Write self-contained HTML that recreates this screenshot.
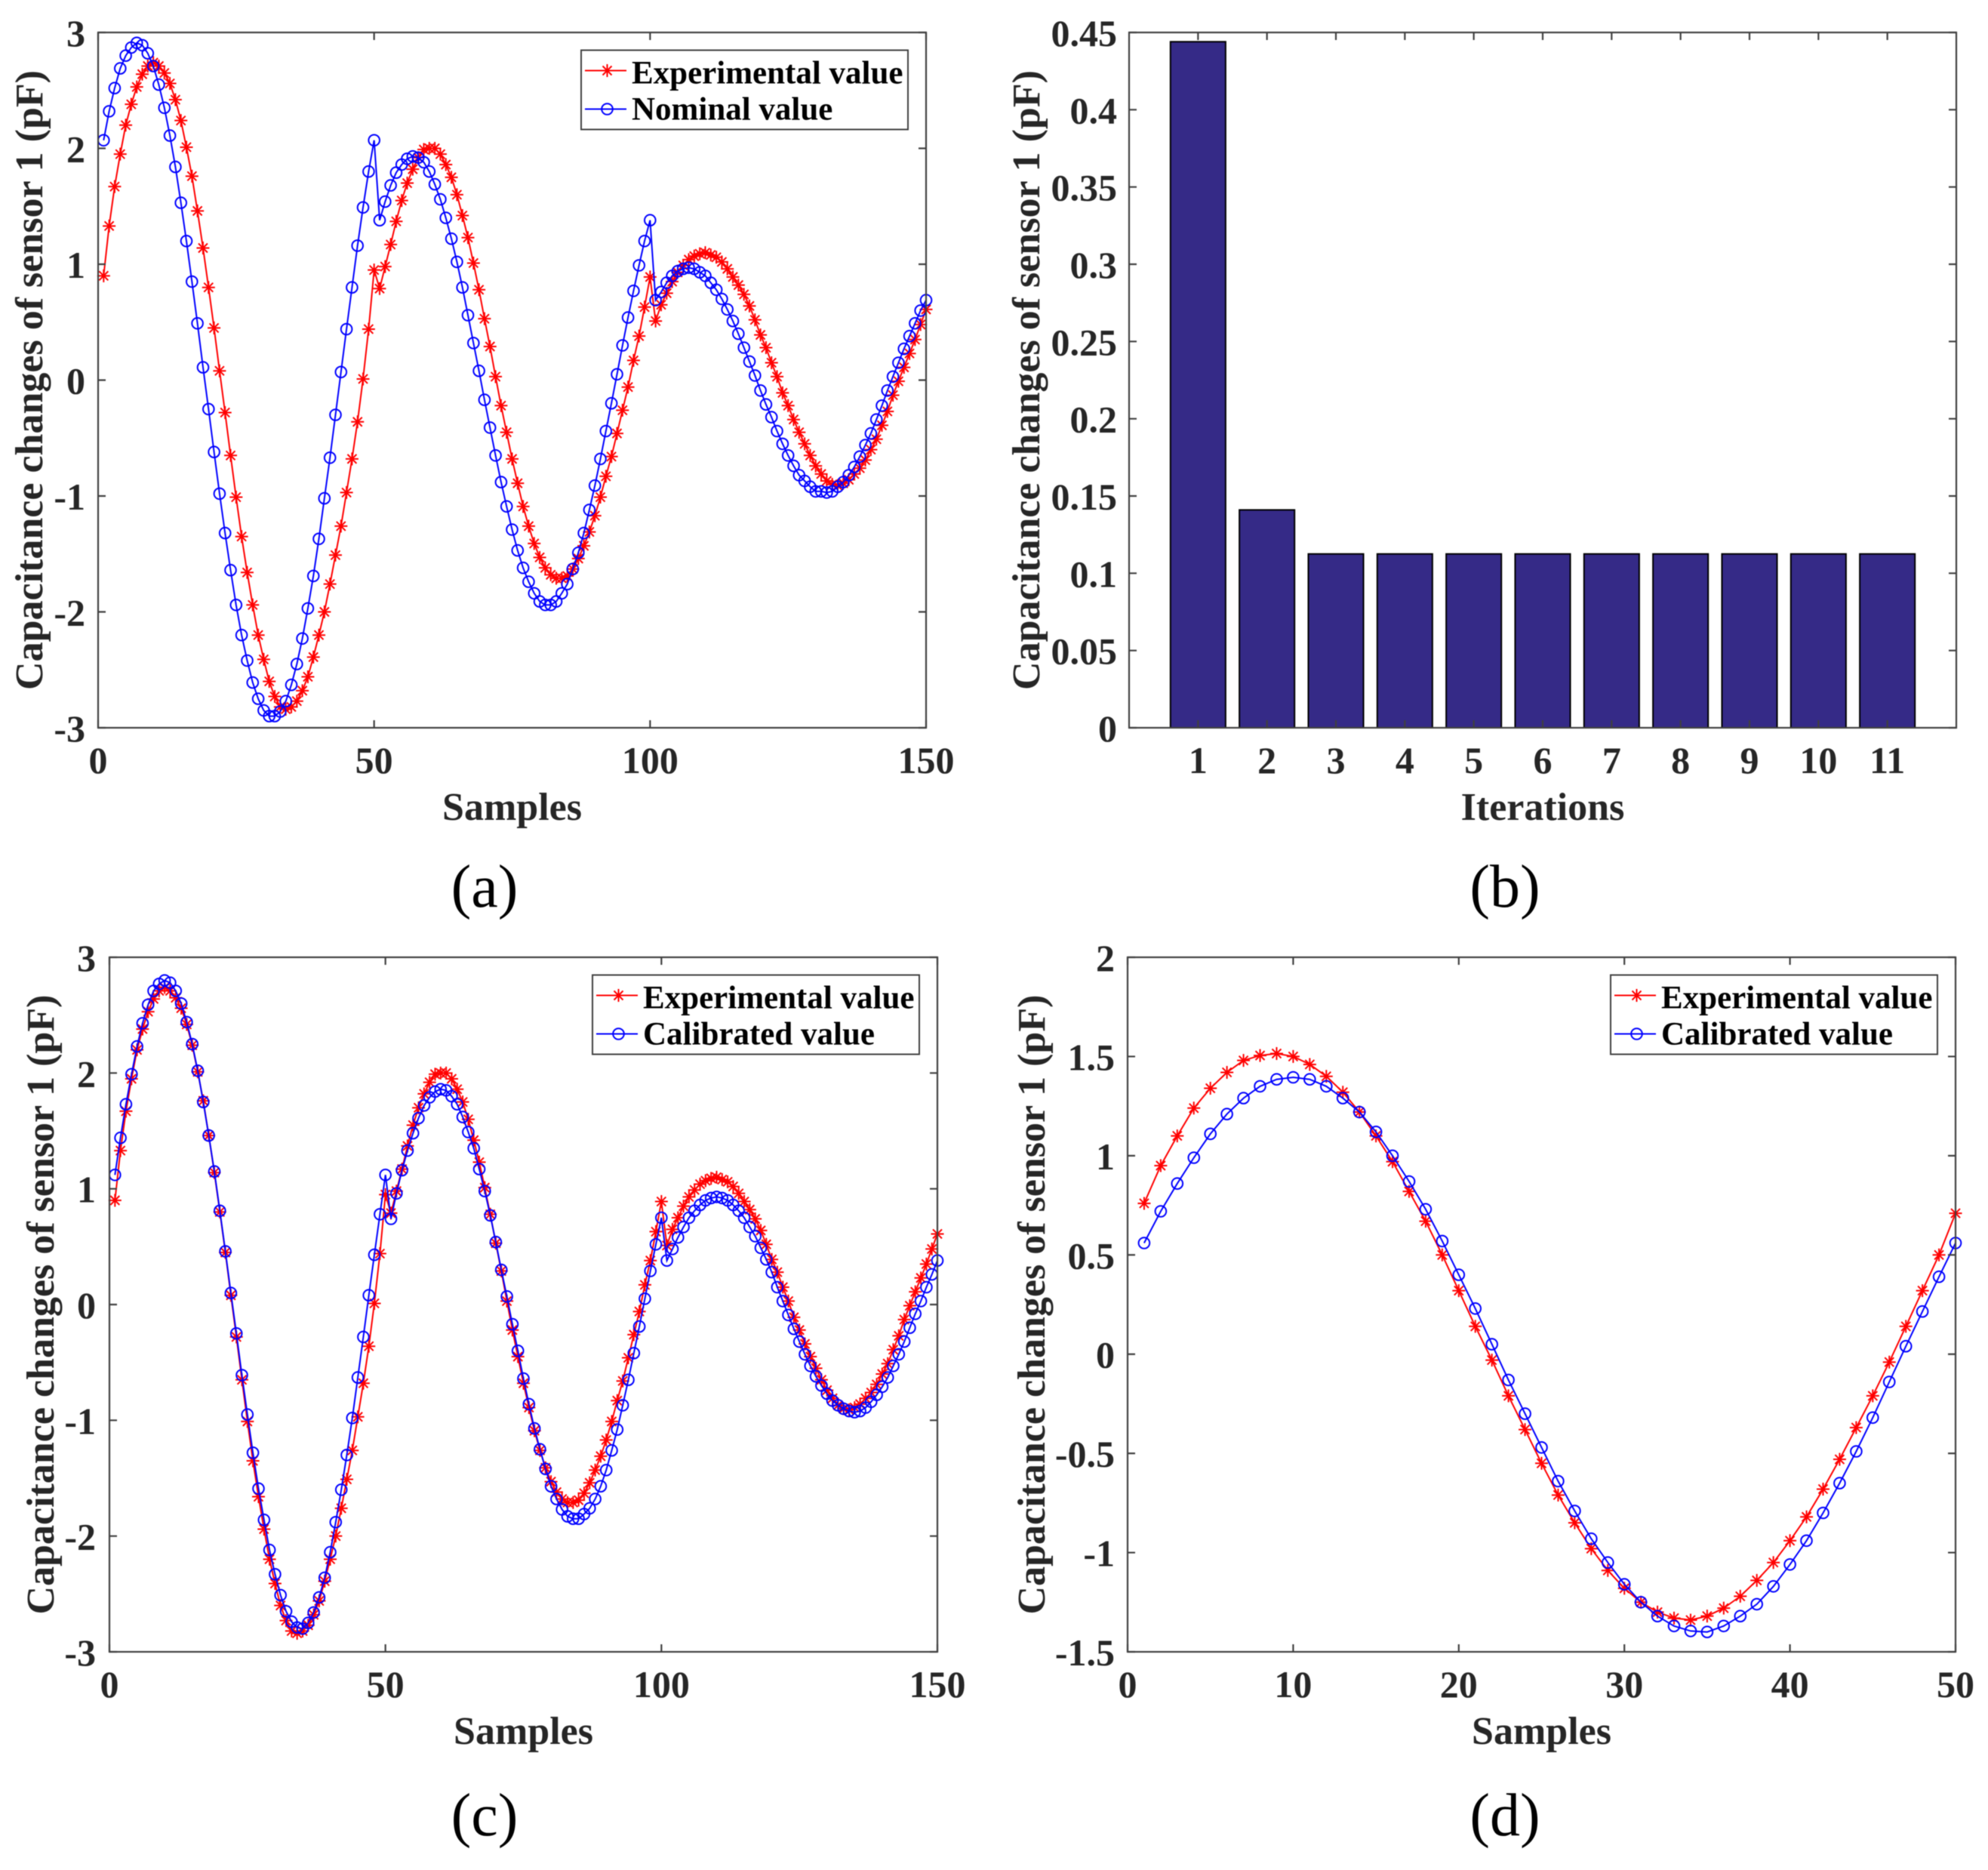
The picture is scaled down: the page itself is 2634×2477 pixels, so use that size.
<!DOCTYPE html>
<html lang="en">
<head>
<meta charset="utf-8">
<title>Capacitance changes of sensor 1</title>
<style>
html,body{margin:0;padding:0;background:#fff;}
svg{display:block;filter:blur(0.5px);}
text{font-family:"Liberation Serif",serif;}
.tick{font-weight:bold;font-size:50px;fill:#262626;}
.axis-title{font-weight:bold;font-size:52px;fill:#262626;}
.legend-text{font-weight:bold;font-size:43px;fill:#000;}
.panel-label{font-size:80px;fill:#000;}
</style>
</head>
<body>
<svg id="figure" xmlns="http://www.w3.org/2000/svg" width="2634" height="2477" viewBox="0 0 2634 2477">
<rect width="2634" height="2477" fill="#fff"/>
<text class="panel-label" x="642" y="1201" text-anchor="middle">(a)</text>
<text class="panel-label" x="1994" y="1201" text-anchor="middle">(b)</text>
<text class="panel-label" x="642" y="2431" text-anchor="middle">(c)</text>
<text class="panel-label" x="1994" y="2431" text-anchor="middle">(d)</text>
</svg>
<script>
var experimentalLong = [0.90,1.33,1.67,1.95,2.20,2.38,2.53,2.64,2.71,2.74,2.71,2.65,2.56,2.42,2.24,2.01,1.76,1.46,1.14,0.80,0.45,0.08,-0.28,-0.65,-1.01,-1.35,-1.66,-1.94,-2.20,-2.41,-2.60,-2.73,-2.82,-2.84,-2.82,-2.77,-2.68,-2.56,-2.39,-2.20,-2.00,-1.76,-1.51,-1.26,-0.97,-0.68,-0.36,0.01,0.44,0.95,0.79,0.98,1.17,1.37,1.55,1.70,1.82,1.92,1.99,2.00,2.00,1.95,1.86,1.75,1.60,1.42,1.23,1.01,0.78,0.53,0.29,0.03,-0.22,-0.45,-0.68,-0.89,-1.09,-1.26,-1.41,-1.53,-1.62,-1.68,-1.71,-1.71,-1.69,-1.63,-1.54,-1.43,-1.31,-1.17,-1.01,-0.83,-0.66,-0.46,-0.26,-0.06,0.17,0.38,0.63,0.89,0.51,0.65,0.75,0.85,0.93,0.99,1.04,1.07,1.09,1.10,1.08,1.06,1.02,0.96,0.89,0.82,0.74,0.64,0.52,0.39,0.28,0.15,0.03,-0.11,-0.22,-0.34,-0.45,-0.55,-0.65,-0.74,-0.81,-0.87,-0.90,-0.91,-0.89,-0.86,-0.81,-0.76,-0.69,-0.60,-0.51,-0.39,-0.27,-0.13,-0.01,0.11,0.23,0.35,0.48,0.61];
var nominalLong = [2.07,2.32,2.52,2.69,2.80,2.87,2.91,2.89,2.82,2.71,2.55,2.35,2.11,1.84,1.53,1.20,0.85,0.49,0.11,-0.25,-0.62,-0.98,-1.32,-1.64,-1.94,-2.20,-2.42,-2.61,-2.75,-2.85,-2.90,-2.90,-2.86,-2.77,-2.63,-2.45,-2.23,-1.97,-1.69,-1.37,-1.02,-0.67,-0.30,0.07,0.44,0.80,1.16,1.49,1.80,2.07,1.38,1.54,1.68,1.79,1.86,1.91,1.93,1.92,1.88,1.80,1.69,1.56,1.40,1.22,1.02,0.80,0.56,0.32,0.08,-0.17,-0.41,-0.65,-0.88,-1.09,-1.29,-1.47,-1.62,-1.74,-1.84,-1.91,-1.94,-1.94,-1.91,-1.84,-1.76,-1.63,-1.49,-1.32,-1.12,-0.91,-0.68,-0.44,-0.20,0.05,0.30,0.54,0.77,0.99,1.20,1.38,0.69,0.76,0.84,0.90,0.94,0.96,0.97,0.96,0.93,0.90,0.84,0.78,0.70,0.61,0.51,0.40,0.28,0.16,0.04,-0.09,-0.21,-0.32,-0.44,-0.55,-0.65,-0.74,-0.82,-0.87,-0.92,-0.96,-0.96,-0.97,-0.96,-0.92,-0.88,-0.82,-0.75,-0.66,-0.56,-0.46,-0.34,-0.22,-0.09,0.03,0.15,0.27,0.38,0.49,0.60,0.69];
var calibratedLong = [1.12,1.44,1.73,1.99,2.23,2.43,2.59,2.71,2.77,2.80,2.78,2.71,2.60,2.44,2.25,2.02,1.75,1.46,1.15,0.81,0.46,0.10,-0.25,-0.61,-0.95,-1.28,-1.59,-1.86,-2.12,-2.33,-2.51,-2.65,-2.74,-2.79,-2.80,-2.75,-2.66,-2.53,-2.36,-2.14,-1.88,-1.60,-1.30,-0.98,-0.63,-0.28,0.08,0.43,0.78,1.12,0.74,0.96,1.16,1.33,1.48,1.61,1.72,1.79,1.84,1.86,1.85,1.80,1.73,1.62,1.49,1.35,1.17,0.98,0.77,0.54,0.30,0.07,-0.17,-0.40,-0.64,-0.86,-1.07,-1.25,-1.42,-1.57,-1.68,-1.77,-1.83,-1.85,-1.85,-1.81,-1.76,-1.68,-1.57,-1.43,-1.26,-1.08,-0.87,-0.65,-0.42,-0.19,0.05,0.29,0.52,0.75,0.38,0.48,0.58,0.67,0.75,0.81,0.86,0.90,0.92,0.93,0.92,0.90,0.86,0.81,0.75,0.67,0.59,0.49,0.39,0.28,0.15,0.03,-0.09,-0.21,-0.32,-0.43,-0.53,-0.62,-0.70,-0.77,-0.83,-0.87,-0.90,-0.92,-0.93,-0.92,-0.89,-0.84,-0.78,-0.71,-0.63,-0.53,-0.43,-0.32,-0.20,-0.08,0.03,0.15,0.26,0.38];
var experimentalShort = [0.76,0.95,1.10,1.24,1.34,1.42,1.48,1.505,1.515,1.50,1.46,1.40,1.32,1.22,1.10,0.97,0.82,0.67,0.50,0.32,0.14,-0.03,-0.21,-0.38,-0.55,-0.71,-0.85,-0.98,-1.09,-1.18,-1.25,-1.30,-1.33,-1.34,-1.32,-1.28,-1.22,-1.14,-1.05,-0.94,-0.82,-0.68,-0.53,-0.37,-0.21,-0.04,0.14,0.32,0.50,0.71];
var calibratedShort = [0.56,0.72,0.86,0.99,1.11,1.21,1.29,1.35,1.385,1.395,1.385,1.35,1.29,1.22,1.12,1.00,0.87,0.73,0.57,0.40,0.23,0.05,-0.13,-0.30,-0.47,-0.64,-0.79,-0.93,-1.05,-1.16,-1.25,-1.32,-1.37,-1.395,-1.40,-1.37,-1.32,-1.26,-1.17,-1.06,-0.94,-0.80,-0.65,-0.49,-0.32,-0.14,0.04,0.215,0.39,0.56];
var iterationCategories = [1,2,3,4,5,6,7,8,9,10,11];
var iterationValues = [0.444,0.141,0.1125,0.1125,0.1125,0.1125,0.1125,0.1125,0.1125,0.1125,0.1125];
var samplesTicksLong = [0,50,100,150];
var samplesTicksShort = [0,10,20,30,40,50];
var yTicksWide = [-3,-2,-1,0,1,2,3];
var yTicksBar = [0,0.05,0.1,0.15,0.2,0.25,0.3,0.35,0.4,0.45];
var yTicksShort = [-1.5,-1,-0.5,0,0.5,1,1.5,2];
var legendExperimental = "Experimental value";
var legendNominal = "Nominal value";
var legendCalibrated = "Calibrated value";
var yTitle = "Capacitance changes of sensor 1 (pF)";

var NS = "http://www.w3.org/2000/svg";
var figure = document.getElementById("figure");

function make(parent, tag, attrs) {
  var node = document.createElementNS(NS, tag);
  for (var key in attrs) { node.setAttribute(key, attrs[key]); }
  parent.appendChild(node);
  return node;
}
function scaleLinear(d0, d1, r0, r1) {
  return function (v) { return r0 + (v - d0) * (r1 - r0) / (d1 - d0); };
}
function drawSeries(parent, values, xs, ys, color, kind, name) {
  var g = make(parent, "g", {});
  
  
  var pts = values.map(function (v, i) { return xs(i + 1).toFixed(1) + "," + ys(v).toFixed(1); }).join(" ");
  var line = make(g, "polyline", {points: pts, fill: "none", stroke: color, "stroke-width": 2});
  
  
  values.forEach(function (v, i) {
    var m = drawMarker(g, xs(i + 1), ys(v), color, kind);
    
    
  });
}
function drawMarker(parent, x, y, color, kind) {
  if (kind === "circle") {
    return make(parent, "circle", {cx: x.toFixed(1), cy: y.toFixed(1), r: 7.3, fill: "none", stroke: color, "stroke-width": 2});
  }
  var r = 8.5, d = 6;
  var path = "M" + (x - r) + " " + y + "H" + (x + r) +
    "M" + x + " " + (y - r) + "V" + (y + r) +
    "M" + (x - d) + " " + (y - d) + "L" + (x + d) + " " + (y + d) +
    "M" + (x - d) + " " + (y + d) + "L" + (x + d) + " " + (y - d);
  return make(parent, "path", {d: path, fill: "none", stroke: color, "stroke-width": 2});
}
function drawAxes(g, box, xs, ys, xTicks, yTicks, xTitle, yLabelX, yTickRight) {
  var frame = make(g, "rect", {x: box.l, y: box.t, width: box.r - box.l, height: box.b - box.t, fill: "none", stroke: "#404040", "stroke-width": 2.2});
  
  
  xTicks.forEach(function (t) {
    var x = xs(t);
    var mark = make(g, "path", {d: "M" + x + " " + box.b + "v-10M" + x + " " + box.t + "v10", stroke: "#404040", "stroke-width": 2.2, fill: "none"});
    
    
    var label = make(g, "text", {x: x, y: box.b + 60, "text-anchor": "middle", "class": "tick"});
    
    
    label.textContent = String(t);
  });
  yTicks.forEach(function (t) {
    var y = ys(t);
    var mark = make(g, "path", {d: "M" + box.l + " " + y + "h10M" + box.r + " " + y + "h-10", stroke: "#404040", "stroke-width": 2.2, fill: "none"});
    
    
    var label = make(g, "text", {x: yTickRight, y: y + 18, "text-anchor": "end", "class": "tick"});
    
    
    label.textContent = String(t);
  });
  var xt = make(g, "text", {x: (box.l + box.r) / 2, y: box.b + 122, "text-anchor": "middle", "class": "axis-title"});
  
  
  xt.textContent = xTitle;
  var cy = (box.t + box.b) / 2;
  var yt = make(g, "text", {x: yLabelX, y: cy, "text-anchor": "middle", "class": "axis-title", transform: "rotate(-90 " + yLabelX + " " + cy + ")"});
  
  
  yt.textContent = yTitle;
}
function drawLegend(g, box, blueLabel) {
  var lx = box.r - 24 - 433, ly = box.t + 23.5;
  var lg = make(g, "g", {});
  
  
  var frame = make(lg, "rect", {x: lx, y: ly, width: 433, height: 105, fill: "#fff", stroke: "#404040", "stroke-width": 2});
  
  
  var redLine = make(lg, "line", {x1: lx + 5, x2: lx + 60, y1: ly + 27, y2: ly + 27, stroke: "#f00", "stroke-width": 2});
  
  
  var redMark = drawMarker(lg, lx + 34.5, ly + 27, "#f00", "star");
  
  
  var redText = make(lg, "text", {x: lx + 67, y: ly + 44, "class": "legend-text"});
  
  
  redText.textContent = legendExperimental;
  var blueLine = make(lg, "line", {x1: lx + 5, x2: lx + 60, y1: ly + 78, y2: ly + 78, stroke: "#00f", "stroke-width": 2});
  
  
  var blueMark = drawMarker(lg, lx + 34.5, ly + 78, "#00f", "circle");
  
  
  var blueText = make(lg, "text", {x: lx + 67, y: ly + 92, "class": "legend-text"});
  
  
  blueText.textContent = blueLabel;
}
function linePanel(name, box, xMax, yMin, yMax, xTicks, yTicks, redVals, blueVals, blueLabel, blueName, yLabelX, yTickRight) {
  var g = make(figure, "g", {});
  
  
  var xs = scaleLinear(0, xMax, box.l, box.r);
  var ys = scaleLinear(yMin, yMax, box.b, box.t);
  drawSeries(g, redVals, xs, ys, "#f00", "star", "experimental-series");
  drawSeries(g, blueVals, xs, ys, "#00f", "circle", blueName);
  drawAxes(g, box, xs, ys, xTicks, yTicks, "Samples", yLabelX, yTickRight);
  drawLegend(g, box, blueLabel);
}
function barPanel(name, box, yLabelX, yTickRight) {
  var g = make(figure, "g", {});
  
  
  var xs = scaleLinear(0, 12, box.l, box.r);
  var ys = scaleLinear(0, 0.45, box.b, box.t);
  var bw = (xs(1) - xs(0)) * 0.8;
  iterationValues.forEach(function (v, i) {
    var c = iterationCategories[i];
    var bar = make(g, "rect", {x: xs(c) - bw / 2, y: ys(v), width: bw, height: ys(0) - ys(v), fill: "#352a87", stroke: "#000", "stroke-width": 2});
    
    
  });
  drawAxes(g, box, xs, ys, iterationCategories, yTicksBar, "Iterations", yLabelX, yTickRight);
}
linePanel("panel-a", {l: 130, r: 1227, t: 43, b: 964}, 150, -3, 3, samplesTicksLong, yTicksWide, experimentalLong, nominalLong, legendNominal, "nominal-series", 56, 113);
barPanel("panel-b", {l: 1496, r: 2592, t: 43, b: 964}, 1377, 1480);
linePanel("panel-c", {l: 145, r: 1242, t: 1268, b: 2188}, 150, -3, 3, samplesTicksLong, yTicksWide, experimentalLong, calibratedLong, legendCalibrated, "calibrated-series", 71, 127);
linePanel("panel-d", {l: 1494, r: 2591, t: 1268, b: 2188}, 50, -1.5, 2, samplesTicksShort, yTicksShort, experimentalShort, calibratedShort, legendCalibrated, "calibrated-series", 1384, 1477);
</script>
</body>
</html>
